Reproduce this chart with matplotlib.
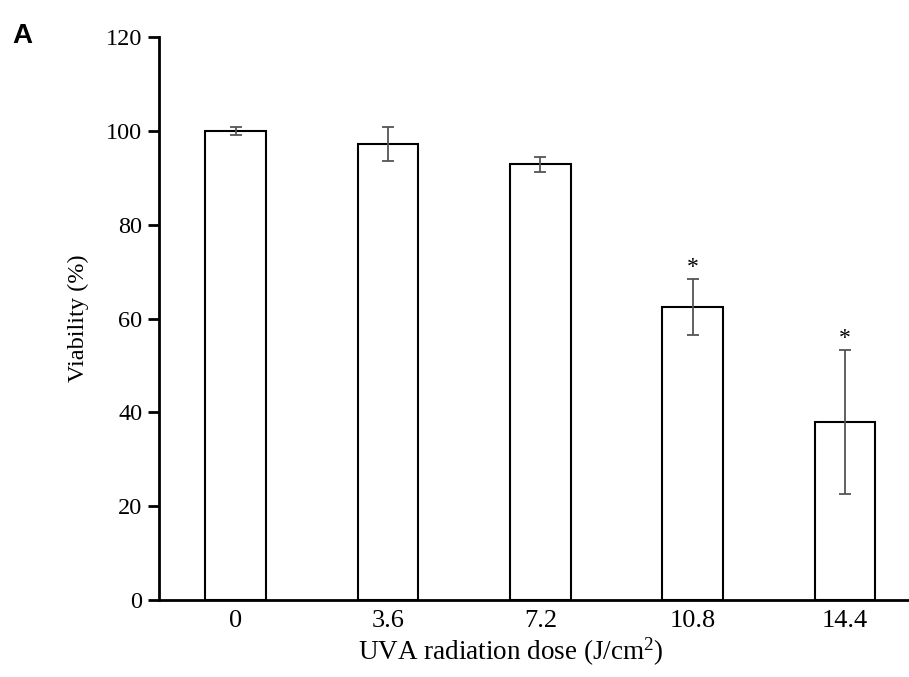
import matplotlib
matplotlib.use("Agg")
import matplotlib.pyplot as plt

categories = ["0", "3.6", "7.2", "10.8", "14.4"]
viability = [100.0, 97.2, 92.9, 62.4, 38.0]
errors = [0.9, 3.6, 1.6, 6.0, 15.3]
significant = [False, False, False, True, True]

plt.rcParams['font.family'] = ['Liberation Serif', 'DejaVu Serif']
plt.rcParams['mathtext.fontset'] = 'custom'
plt.rcParams['mathtext.rm'] = 'Liberation Serif'
plt.rcParams['mathtext.it'] = 'Liberation Serif:italic'

fig = plt.figure(figsize=(9.09, 6.77), dpi=100)
ax = fig.add_axes([0.175, 0.1137, 0.825, 0.8316])

x = list(range(len(categories)))
ax.bar(x, viability, width=0.40, color='white', edgecolor='black', linewidth=1.5, zorder=2)
ax.errorbar(x, viability, yerr=errors, fmt='none', ecolor='#555555', elinewidth=1.3,
            capsize=4.5, capthick=1.3, zorder=3)
for xi, v, e, s in zip(x, viability, errors, significant):
    if s:
        ax.annotate('*', xy=(xi, v + e), xytext=(0, 1), textcoords='offset points',
                    ha='center', va='bottom', fontsize=17)

ax.set_xlim(-0.503, 4.42)
ax.set_ylim(0, 120)
ax.set_yticks(range(0, 121, 20))
ax.set_xticks(x)
ax.set_xticklabels(categories)
ax.tick_params(axis='y', direction='out', length=8, width=2, labelsize=17.5, pad=4)
ax.tick_params(axis='x', length=0, labelsize=19, pad=7)
for side in ['top', 'right']:
    ax.spines[side].set_visible(False)
for side in ['left', 'bottom']:
    ax.spines[side].set_linewidth(2)

ax.set_ylabel('Viability (%)', fontsize=17.5, labelpad=12)
ax.set_xlabel(r'UVA radiation dose (J/cm$^{2}$)', fontsize=19.5, labelpad=3, x=0.469)

fig.text(0.013, 0.937, 'A', fontsize=20, fontweight='bold', family='Liberation Sans')

fig.savefig('out.png', dpi=100)
